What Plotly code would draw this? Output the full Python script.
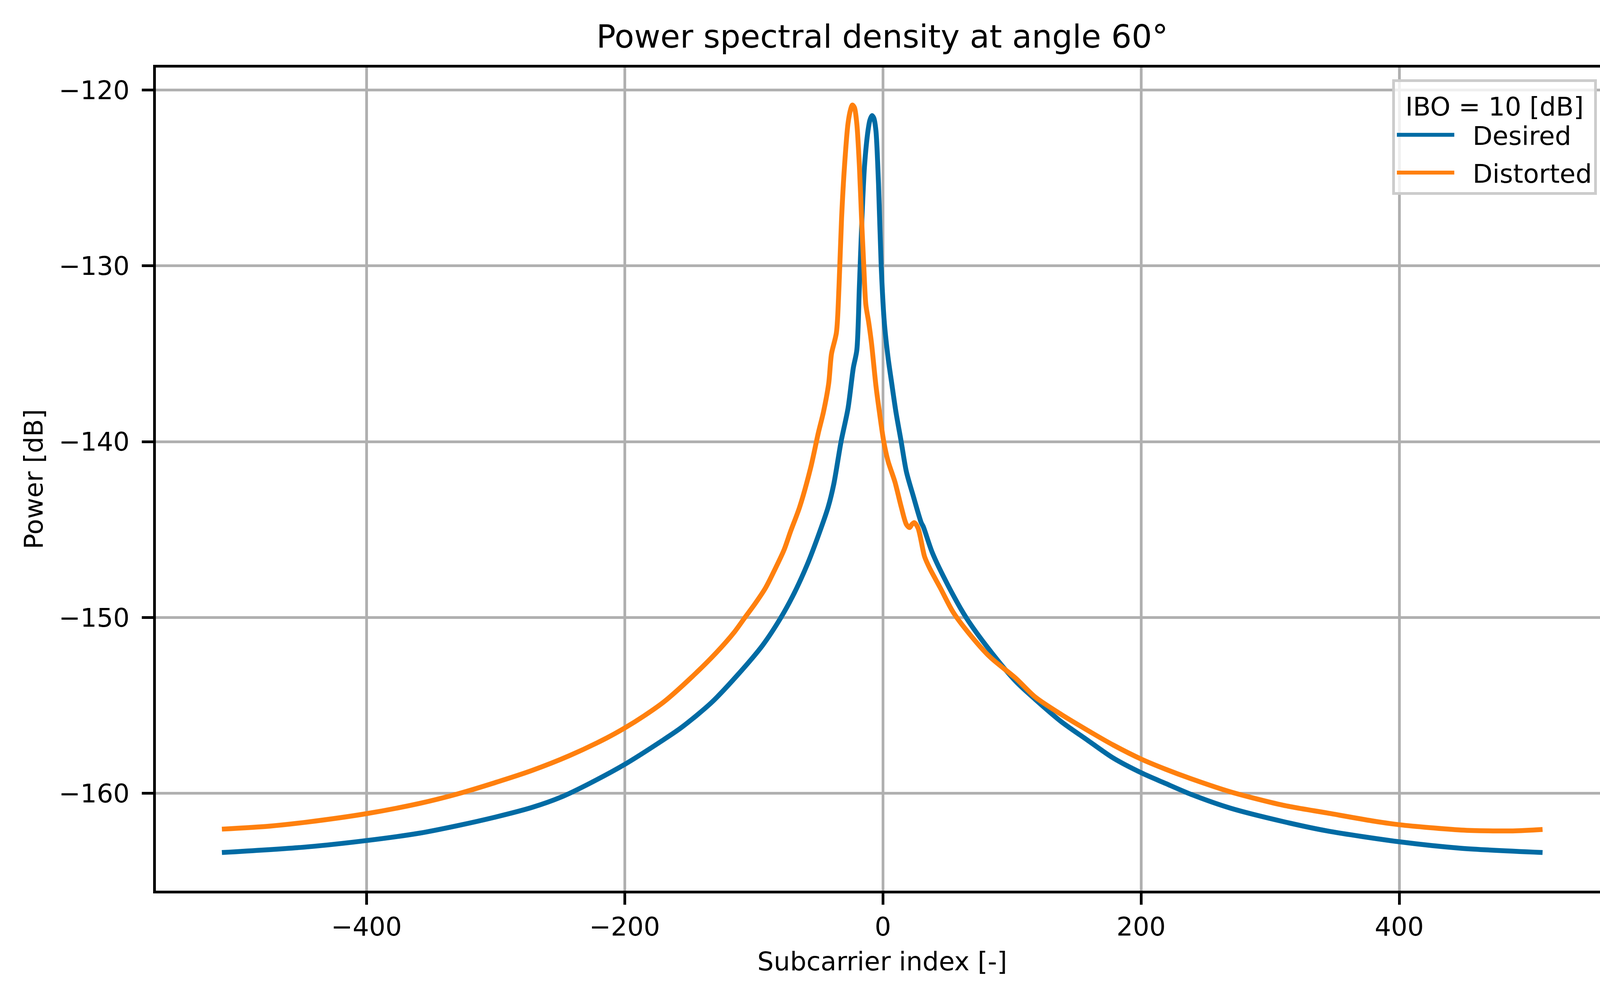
import plotly.graph_objects as go

# ---- data ----
desired_x = [-512, -446, -400, -359, -330, -301, -272, -249, -229, -200, -171, -156,
             -133, -113, -93, -79, -68.6, -58.5, -50.4, -42.4, -38, -32.4, -27, -22.9,
             -20.2, -18.2, -16.2, -14.2, -11.5, -10, -8.4, -7, -5.4, -3.4, -1.3, 1.1, 4,
             6.7, 10.1, 14.2, 18.2, 23.6, 29.7, 31.3, 38.3, 50.4, 64.5, 82.7, 102.9, 118,
             138.2, 158.3, 178.5, 200.5, 218.9, 239, 269.3, 310, 344, 400, 448, 511]
desired_y = [-163.36, -163.04, -162.68, -162.26, -161.84, -161.36, -160.8, -160.2, -159.5,
             -158.35, -157.0, -156.25, -154.85, -153.3, -151.56, -150.0, -148.6, -146.97,
             -145.42, -143.72, -142.4, -140.0, -138.1, -135.8, -134.8, -131.2, -127.3,
             -124.3, -122.3, -121.7, -121.45, -121.6, -122.3, -125.3, -130.0, -133.2,
             -135.2, -136.6, -138.3, -140.0, -141.7, -143.1, -144.6, -144.83, -146.31,
             -148.16, -150.0, -151.85, -153.62, -154.65, -155.92, -156.96, -157.99, -158.84,
             -159.43, -160.06, -160.84, -161.6, -162.13, -162.75, -163.12, -163.36]

distorted_x = [-512, -475, -446, -400, -359, -330, -301, -272, -243, -214, -200, -185,
               -169.4, -149.3, -129.1, -115, -106.9, -98.8, -90.8, -83.7, -76.6, -71.6,
               -64.5, -56, -50, -46, -42, -39.8, -36, -34, -32, -29.7, -27, -25, -23.6,
               -22, -20.2, -18.2, -16.5, -14.8, -13.2, -11, -8.8, -5.4, -2.7, 0.7, 4, 9.4,
               14.2, 18.2, 20.7, 22.5, 24.3, 27.2, 32.3, 36.3, 44.4, 54.5, 66.6, 82.7,
               102.9, 118, 138.2, 158.3, 178.5, 200.5, 218.9, 239, 269.3, 310, 344, 379,
               400, 448, 488, 511]
distorted_y = [-162.03, -161.86, -161.63, -161.15, -160.57, -160.04, -159.4, -158.7, -157.86,
               -156.85, -156.28, -155.59, -154.78, -153.47, -152.0, -150.82, -150.0, -149.19,
               -148.3, -147.27, -146.16, -145.12, -143.72, -141.5, -139.5, -138.3, -136.7,
               -135.0, -133.8, -131.2, -127.3, -124.3, -121.9, -121.1, -120.85, -121.0,
               -121.9, -124.3, -127.3, -130.0, -132.2, -133.2, -134.4, -136.8, -138.3,
               -140.0, -141.1, -142.3, -143.7, -144.7, -144.88, -144.7, -144.6, -144.9,
               -146.53, -147.2, -148.3, -149.7, -150.89, -152.22, -153.45, -154.52, -155.51,
               -156.4, -157.25, -158.06, -158.62, -159.17, -159.91, -160.67, -161.11,
               -161.56, -161.78, -162.08, -162.13, -162.05]

x_ticks = [-400, -200, 0, 200, 400]
y_ticks = [-160, -150, -140, -130, -120]

title_text = "Power spectral density at angle 60°"
x_label = "Subcarrier index [-]"
y_label = "Power [dB]"
legend_title = "IBO = 10 [dB]"
series_names = ["Desired", "Distorted"]

W, H = 4179, 2561
L, R, T, B = 399, 61, 173, 280
FONT = "DejaVu Sans"

fig = go.Figure()
fig.add_trace(go.Scatter(x=desired_x, y=desired_y, mode="lines", name="  " + series_names[0],
                         legendgroup="a",
                         line=dict(color="#006BA4", width=12.5, shape="spline", smoothing=0.8)))
fig.add_trace(go.Scatter(x=distorted_x, y=distorted_y, mode="lines", name="  " + series_names[1],
                         legendgroup="b",
                         line=dict(color="#FF800E", width=12.5, shape="spline", smoothing=0.8)))

axis_common = dict(
    showline=True, linecolor="black", linewidth=7, mirror=True,
    ticks="outside", ticklen=29, tickwidth=7, tickcolor="black",
    showgrid=True, gridcolor="#b0b0b0", gridwidth=6.7,
    zeroline=False, tickfont=dict(family=FONT, size=66, color="black"),
    automargin=False,
)

fig.update_xaxes(range=[-563.15, 562.15], tickvals=x_ticks, **axis_common,
                 title=dict(text=x_label, font=dict(family=FONT, size=66, color="black"),
                            standoff=30))
fig.update_yaxes(range=[-165.53, -118.72], tickvals=y_ticks, ticklabelstandoff=18,
                 **axis_common,
                 title=dict(text=y_label, font=dict(family=FONT, size=66, color="black"),
                            standoff=22))

fig.update_layout(
    width=W, height=H,
    margin=dict(l=L, r=R, t=T, b=B, pad=0),
    paper_bgcolor="white", plot_bgcolor="white",
    font=dict(family=FONT, size=66, color="black"),
    title=dict(text=title_text, x=(L + (W - R)) / 2 / W, xanchor="center",
               y=1 - 93 / H, yanchor="middle", yref="container",
               font=dict(family=FONT, size=82, color="black")),
    legend=dict(
        x=(4088 - L) / (W - R - L), xanchor="right",
        y=(H - B - 203) / (H - B - T), yanchor="top",
        bgcolor="rgba(255,255,255,0.8)", bordercolor="#cccccc", borderwidth=7,
        font=dict(family=FONT, size=66, color="black"),
        title=dict(text=legend_title, side="top center",
                   font=dict(family=FONT, size=66, color="black")),
        itemwidth=147, tracegroupgap=8,
    ),
    showlegend=True,
)

fig.write_html("out.html", config={"displayModeBar": False},
               post_script="document.body.style.margin='0';")
